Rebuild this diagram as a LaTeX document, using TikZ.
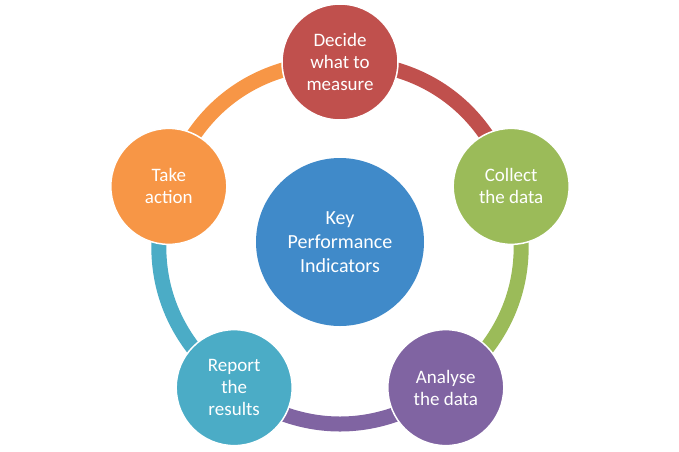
\documentclass[tikz,border=0pt]{standalone}
\usepackage{fontspec}
\setmainfont{Carlito}
\usetikzlibrary{backgrounds}

\definecolor{kpiblue}{HTML}{408AC9}
\definecolor{decidered}{HTML}{C0504D}
\definecolor{collectgreen}{HTML}{9BBB59}
\definecolor{analysepurple}{HTML}{8064A2}
\definecolor{reportteal}{HTML}{4BACC6}
\definecolor{actionorange}{HTML}{F79646}

\begin{document}
\begin{tikzpicture}[x=1pt,y=1pt,
   phase/.style={circle,draw=white,line width=1.5pt,minimum size=116pt,inner sep=0pt,
                 text=white,align=center,font=\fontsize{19}{22}\selectfont},
   hub/.style={circle,fill=kpiblue,minimum size=168pt,inner sep=0pt,
               text=white,align=center,font=\fontsize{20}{24}\selectfont},
   ring/.style={line width=15pt,bend left=36}]
   \useasboundingbox (-340,-209) rectangle (339,242);
   \node[hub] (kpi) at (0,0) {Key\\Performance\\Indicators};
   \node[phase,fill=decidered]     (decide)  at (90:180)   {Decide\\what to\\measure};
   \node[phase,fill=collectgreen]  (collect) at (18:180)   {Collect\\the data};
   \node[phase,fill=analysepurple] (analyse) at (-54:180)  {Analyse\\the data};
   \node[phase,fill=reportteal]    (report)  at (-126:180) {Report\\the\\results};
   \node[phase,fill=actionorange]  (action)  at (162:180)  {Take\\action};
   % ring behind the circles
   \begin{scope}[on background layer]
    \path[ring]
    (decide.center)  edge[decidered]     (collect.center)
    (collect.center) edge[collectgreen]  (analyse.center)
    (analyse.center) edge[analysepurple] (report.center)
    (report.center)  edge[reportteal]    (action.center)
    (action.center)  edge[actionorange]  (decide.center);
   \end{scope}
\end{tikzpicture}
\end{document}
